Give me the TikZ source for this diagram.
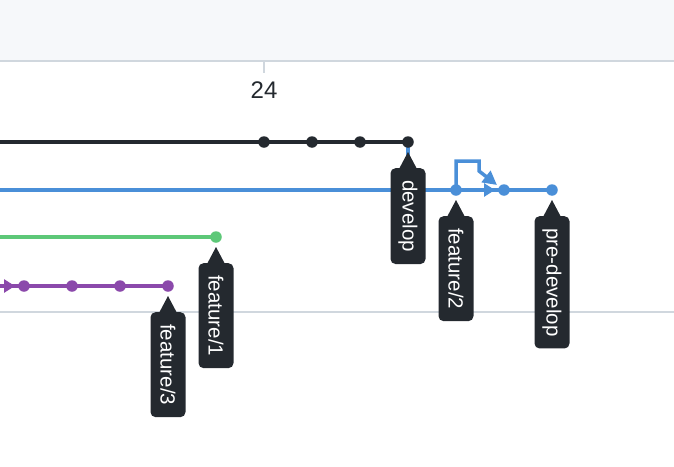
\documentclass[tikz,border=0pt]{standalone}
\usepackage{fontspec}
\setmainfont{Liberation Sans}
\usetikzlibrary{arrows.meta,backgrounds}
\definecolor{cblack}{HTML}{24292F}
\definecolor{cblue}{HTML}{4A8FD8}
\definecolor{cgreen}{HTML}{5DC878}
\definecolor{cpurple}{HTML}{8B49AB}
\definecolor{hdrbg}{HTML}{F6F8FA}
\definecolor{gridc}{HTML}{D0D7DE}
\begin{document}
\begin{tikzpicture}[x=1pt,y=-1pt,
  commit/.style={circle, inner sep=0pt, minimum size=11.5pt, fill=#1},
  edge/.style={line width=3.5pt, draw=#1},
  tipped/.style={-{Triangle[length=11pt,width=13pt]}},
  bigtip/.style={-{Triangle[length=14pt,width=14pt]}},
  lbl/.style={fill=cblack, text=white, rounded corners=5pt, rotate=-90, anchor=west,
    minimum height=35pt, inner xsep=12pt, inner ysep=0pt,
    font=\fontsize{20.5}{24}\selectfont},
  grid/.style={draw=gridc, line width=2pt}]
\useasboundingbox (0,0) rectangle (674,466);
% header
\fill[hdrbg] (0,0) rectangle (674,61);
\draw[grid] (0,61) -- (674,61);
\draw[grid] (264,62) -- (264,73);
\node[font=\fontsize{24}{28}\selectfont, text=cblack] (t24) at (264,90) {24};
\draw[grid] (0,312) -- (674,312);
% commits
\node[commit=cblack] (d1) at (264,142) {};
\node[commit=cblack] (d2) at (312,142) {};
\node[commit=cblack] (d3) at (360,142) {};
\node[commit=cblack] (d4) at (408,142) {};
\node[commit=cblue] (b1) at (456,190) {};
\node[commit=cblue] (b2) at (504,190) {};
\node[commit=cblue] (b3) at (552,190) {};
\node[commit=cgreen] (g1) at (216,237) {};
\node[commit=cpurple] (p1) at (24,286) {};
\node[commit=cpurple] (p2) at (72,286) {};
\node[commit=cpurple] (p3) at (120,286) {};
\node[commit=cpurple] (p4) at (168,286) {};
\coordinate (k0) at (0,142);
\coordinate (bl0) at (0,190);
\coordinate (g0) at (0,237);
\coordinate (p0) at (0,286);
\coordinate (dm) at (408,190);
\coordinate (barr) at (495,190);
\coordinate (parr) at (15,286);
\coordinate (ma) at (479,161);
\coordinate (mb) at (479,171);
\coordinate (mc) at (497,185);
% connectors
\begin{scope}[on background layer]
\draw[edge=cblue] (d4.center) -- (dm);
\draw[edge=cblack] (k0) -- (d1.center) -- (d2.center) -- (d3.center) -- (d4.center);
\draw[edge=cblue] (bl0) -- (b1.center) -- (b2.center) -- (b3.center);
\draw[edge=cblue, tipped] (b1.center) -- (barr);
\draw[edge=cblue, bigtip] (b1.center) |- (ma) -- (mb) -- (mc);
\draw[edge=cgreen] (g0) -- (g1.center);
\draw[edge=cpurple] (p0) -- (p1.center) -- (p2.center) -- (p3.center) -- (p4.center);
\draw[edge=cpurple, tipped] (p0) -- (parr);
\end{scope}
% labels
\node[lbl] (ldev) at (408,168) {develop};
\node[lbl] (lf2) at (456,216) {feature/2};
\node[lbl] (lpre) at (552,216) {pre-develop};
\node[lbl] (lf1) at (216,263) {feature/1};
\node[lbl] (lf3) at (168,312) {feature/3};
\foreach \n in {ldev,lf2,lpre,lf1,lf3}
  \fill[cblack] (\n.west) ++(-9,1) -- ++(9,-17) -- ++(9,17) -- cycle;
\end{tikzpicture}
\end{document}
